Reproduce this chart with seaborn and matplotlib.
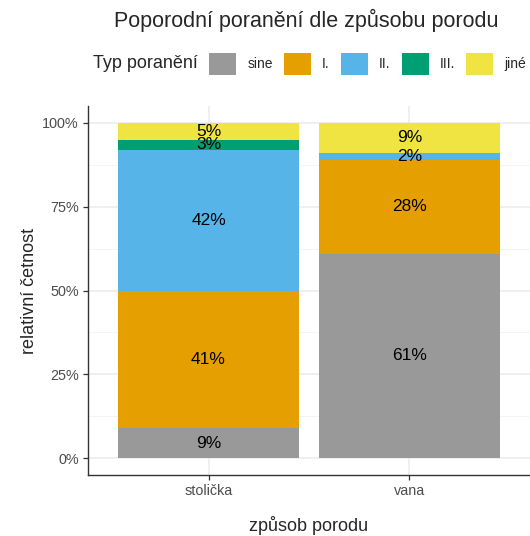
import seaborn as sns
import matplotlib.pyplot as plt
import pandas as pd
from matplotlib.patches import Patch
from matplotlib.ticker import PercentFormatter, MultipleLocator

# data (percent of births per method)
methods = ['stolička', 'vana']
injury_types = ['sine', 'I.', 'II.', 'III.', 'jiné']
stolicka = [9, 41, 42, 3, 5]
vana = [61, 28, 2, 0, 9]
colors = ['#999999', '#E69F00', '#56B4E9', '#009E73', '#F0E442']

rows = []
for m, vals in zip(methods, [stolicka, vana]):
    for t, v in zip(injury_types, vals):
        rows.append({'porod': m, 'typ': t, 'pct': v / 100})
df = pd.DataFrame(rows)
df['typ'] = pd.Categorical(df['typ'], categories=injury_types, ordered=True)
df = df.sort_values(['porod', 'typ'])
df['top'] = df.groupby('porod')['pct'].cumsum()
df['mid'] = df['top'] - df['pct'] / 2

sns.set_theme(style='white')
plt.rcParams['font.family'] = ['Liberation Sans', 'DejaVu Sans']

fig = plt.figure(figsize=(5.30, 5.36), dpi=100)
ax = fig.add_axes([88 / 530, 61 / 536, 442 / 530, 369 / 536])

# draw stacked segments from the top layer down
for t, c in reversed(list(zip(injury_types, colors))):
    sub = df[df['typ'] == t]
    sns.barplot(data=sub, x='porod', y='top', order=methods, color=c,
                saturation=1, width=0.9, linewidth=0, ax=ax, zorder=2)

for _, r in df.iterrows():
    if r['pct'] > 0:
        ax.text(methods.index(r['porod']), r['mid'], f"{round(r['pct'] * 100)}%",
                ha='center', va='center', fontsize=12.5, color='black', zorder=3)

ax.set_xlim(-0.6, 1.6)
ax.set_ylim(-0.05, 1.05)
ax.yaxis.set_major_locator(MultipleLocator(0.25))
ax.yaxis.set_minor_locator(MultipleLocator(0.125))
ax.yaxis.set_major_formatter(PercentFormatter(1.0, decimals=0))
ax.grid(True, which='major', color='#EBEBEB', lw=1.1, zorder=0)
ax.grid(True, which='minor', axis='y', color='#F2F2F2', lw=0.6, zorder=0)
ax.set_axisbelow(True)

for s in ['top', 'right']:
    ax.spines[s].set_visible(False)
for s in ['left', 'bottom']:
    ax.spines[s].set_color('#333333')
    ax.spines[s].set_linewidth(1.0)

ax.tick_params(axis='both', which='major', length=3.5, width=0.9, color='#333333',
               labelsize=10.4, labelcolor='#4D4D4D', pad=3, left=True, bottom=True)
ax.tick_params(axis='y', which='minor', length=0)

ax.set_xlabel('způsob porodu', fontsize=13, labelpad=13)
ax.set_ylabel('relativní četnost', fontsize=13, labelpad=3)

fig.text(306 / 530, 1 - 20 / 536, 'Poporodní poranění dle způsobu porodu',
         ha='center', va='center', fontsize=15.5)

fig.text(93 / 530, 1 - 64 / 536, 'Typ poranění', ha='left', va='center', fontsize=13)
handles = [Patch(facecolor=c, edgecolor='none') for c in colors]
fig.legend(handles, injury_types, loc='center left',
           bbox_to_anchor=(209 / 530, 1 - 64 / 536), ncol=5, frameon=False,
           fontsize=10, handlelength=1.95, handleheight=1.95, handletextpad=0.8,
           columnspacing=0.8, borderpad=0, borderaxespad=0)

plt.savefig('out.png', dpi=100)
